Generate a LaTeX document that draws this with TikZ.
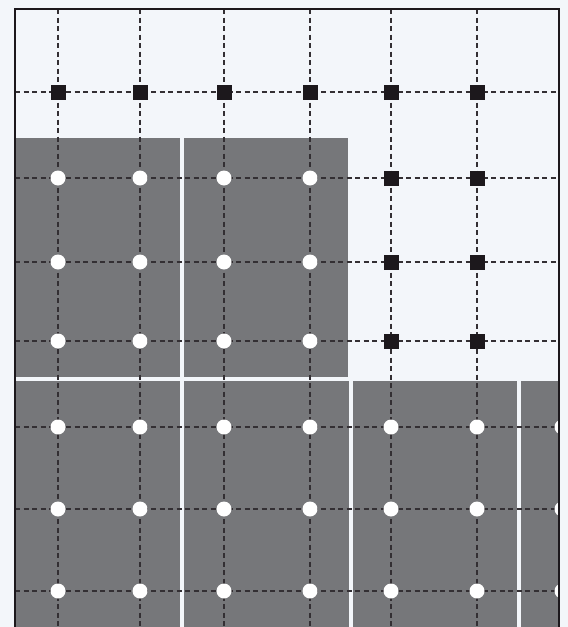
\documentclass[tikz,border=0pt]{standalone}
\definecolor{bgc}{RGB}{243,246,250}
\definecolor{tilegray}{RGB}{118,119,122}
\definecolor{ink}{RGB}{28,24,28}
\begin{document}
\begin{tikzpicture}[x=1pt,y=-1pt,
  sq/.style={rectangle, fill=ink, minimum size=15pt, inner sep=0pt},
  dot/.style={circle, fill=white, minimum size=15pt, inner sep=0pt},
  gridline/.style={draw=ink!90, line width=1.2pt, dash pattern=on 5pt off 3.5pt},
  tile/.style={fill=tilegray},
  frameline/.style={draw=ink, line width=2.2pt}]
\fill[bgc] (0,0) rectangle (568,627);
\useasboundingbox (0,0) rectangle (568,627);
\begin{scope}
  \clip (15,9) rectangle (559,640);
  % tiles
  \fill[tile] (15,138) rectangle (180,377);
  \fill[tile] (184,138) rectangle (348,377);
  \fill[tile] (15,381) rectangle (180,640);
  \fill[tile] (184,381) rectangle (349,640);
  \fill[tile] (353,381) rectangle (517,640);
  \fill[tile] (521,381) rectangle (565,640);
  % grid
  \foreach \x in {58,140,224,310,391,477}
    \draw[gridline] (\x,9) -- (\x,640);
  \foreach \y in {92,178,262,341,427,509,591}
    \draw[gridline] (15,\y) -- (559,\y);
  % squares
  \foreach \x [count=\i] in {58,140,224,310,391,477}
    \node[sq] (s0-\i) at (\x,92) {};
  \foreach \y [count=\j] in {178,262,341}
    \foreach \x [count=\i] in {391,477}
      \node[sq] (s\j-\i) at (\x,\y) {};
  % circles in upper tiles
  \foreach \y [count=\j] in {178,262,341}
    \foreach \x [count=\i] in {58,140,224,310}
      \node[dot] (u\j-\i) at (\x,\y) {};
  % circles in lower tiles
  \foreach \y [count=\j] in {427,509,591}
    \foreach \x [count=\i] in {58,140,224,310,391,477,562}
      \node[dot] (l\j-\i) at (\x,\y) {};
\end{scope}
\draw[frameline] (15,650) -- (15,9) -- (559,9) -- (559,650);
\end{tikzpicture}
\end{document}
